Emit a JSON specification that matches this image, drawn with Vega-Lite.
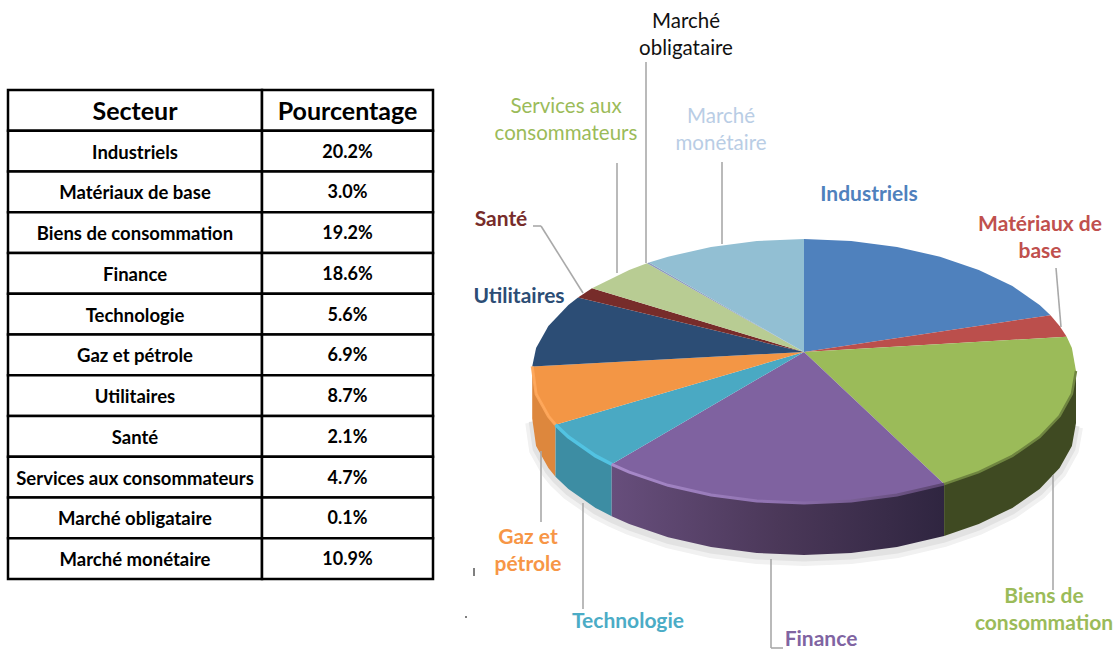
{
"$schema":"https://vega.github.io/schema/vega-lite/v6.json",
"padding":{"left":6,"top":0,"right":0,"bottom":0},
"spacing":0,
"bounds":"flush",
"config":{"view":{"stroke":null},"font":"Lato"},
"background":"white",
"datasets":{
"table":[
{"secteur":"Secteur","pourcentage":"Pourcentage","kind":"header"},
{"secteur":"Industriels","pourcentage":"20.2%","kind":"row"},
{"secteur":"Matériaux de base","pourcentage":"3.0%","kind":"row"},
{"secteur":"Biens de consommation","pourcentage":"19.2%","kind":"row"},
{"secteur":"Finance","pourcentage":"18.6%","kind":"row"},
{"secteur":"Technologie","pourcentage":"5.6%","kind":"row"},
{"secteur":"Gaz et pétrole","pourcentage":"6.9%","kind":"row"},
{"secteur":"Utilitaires","pourcentage":"8.7%","kind":"row"},
{"secteur":"Santé","pourcentage":"2.1%","kind":"row"},
{"secteur":"Services aux consommateurs","pourcentage":"4.7%","kind":"row"},
{"secteur":"Marché obligataire","pourcentage":"0.1%","kind":"row"},
{"secteur":"Marché monétaire","pourcentage":"10.9%","kind":"row"}
],
"faces":[
{"slice":"Industriels","i":0,"x":804,"y":352},{"slice":"Industriels","i":1,"x":804,"y":239},{"slice":"Industriels","i":2,"x":851.2,"y":241},{"slice":"Industriels","i":3,"x":897,"y":247},{"slice":"Industriels","i":4,"x":940,"y":256.7},{"slice":"Industriels","i":5,"x":978.8,"y":269.9},{"slice":"Industriels","i":6,"x":1012.4,"y":286.1},{"slice":"Industriels","i":7,"x":1039.6,"y":305},{"slice":"Industriels","i":8,"x":1050.5,"y":315.2},
{"slice":"Matériaux de base","i":0,"x":804,"y":352},{"slice":"Matériaux de base","i":1,"x":1050.5,"y":315.2},{"slice":"Matériaux de base","i":2,"x":1059.6,"y":325.9},{"slice":"Matériaux de base","i":3,"x":1066.7,"y":336.8},
{"slice":"Biens de consommation","i":0,"x":804,"y":352},{"slice":"Biens de consommation","i":1,"x":1066.7,"y":336.8},{"slice":"Biens de consommation","i":2,"x":1071.9,"y":348.1},{"slice":"Biens de consommation","i":3,"x":1076,"y":371},{"slice":"Biens de consommation","i":4,"x":1071.9,"y":393.9},{"slice":"Biens de consommation","i":5,"x":1059.6,"y":416.1},{"slice":"Biens de consommation","i":6,"x":1039.6,"y":437},{"slice":"Biens de consommation","i":7,"x":1012.4,"y":455.9},{"slice":"Biens de consommation","i":8,"x":978.8,"y":472.1},{"slice":"Biens de consommation","i":9,"x":944.1,"y":484.1},
{"slice":"Finance","i":0,"x":804,"y":352},{"slice":"Finance","i":1,"x":944.1,"y":484.1},{"slice":"Finance","i":2,"x":897,"y":495},{"slice":"Finance","i":3,"x":851.2,"y":501},{"slice":"Finance","i":4,"x":804,"y":503},{"slice":"Finance","i":5,"x":756.8,"y":501},{"slice":"Finance","i":6,"x":711,"y":495},{"slice":"Finance","i":7,"x":668,"y":485.3},{"slice":"Finance","i":8,"x":629.2,"y":472.1},{"slice":"Finance","i":9,"x":611.7,"y":464.3},
{"slice":"Technologie","i":0,"x":804,"y":352},{"slice":"Technologie","i":1,"x":611.7,"y":464.3},{"slice":"Technologie","i":2,"x":595.6,"y":455.9},{"slice":"Technologie","i":3,"x":568.4,"y":437},{"slice":"Technologie","i":4,"x":555.5,"y":424.7},
{"slice":"Gaz et pétrole","i":0,"x":804,"y":352},{"slice":"Gaz et pétrole","i":1,"x":555.5,"y":424.7},{"slice":"Gaz et pétrole","i":2,"x":548.4,"y":416.1},{"slice":"Gaz et pétrole","i":3,"x":536.1,"y":393.9},{"slice":"Gaz et pétrole","i":4,"x":532.2,"y":366.4},
{"slice":"Utilitaires","i":0,"x":804,"y":352},{"slice":"Utilitaires","i":1,"x":532.2,"y":366.4},{"slice":"Utilitaires","i":2,"x":536.1,"y":348.1},{"slice":"Utilitaires","i":3,"x":548.4,"y":325.9},{"slice":"Utilitaires","i":4,"x":568.4,"y":305},{"slice":"Utilitaires","i":5,"x":578,"y":297.6},
{"slice":"Santé","i":0,"x":804,"y":352},{"slice":"Santé","i":1,"x":578,"y":297.6},{"slice":"Santé","i":2,"x":592,"y":288.2},
{"slice":"Services aux consommateurs","i":0,"x":804,"y":352},{"slice":"Services aux consommateurs","i":1,"x":592,"y":288.2},{"slice":"Services aux consommateurs","i":2,"x":629.2,"y":269.9},{"slice":"Services aux consommateurs","i":3,"x":647,"y":263.2},
{"slice":"Marché obligataire","i":0,"x":804,"y":352},{"slice":"Marché obligataire","i":1,"x":647,"y":263.2},{"slice":"Marché obligataire","i":2,"x":649,"y":262.6},
{"slice":"Marché monétaire","i":0,"x":804,"y":352},{"slice":"Marché monétaire","i":1,"x":649,"y":262.6},{"slice":"Marché monétaire","i":2,"x":668,"y":256.7},{"slice":"Marché monétaire","i":3,"x":711,"y":247},{"slice":"Marché monétaire","i":4,"x":756.8,"y":241},{"slice":"Marché monétaire","i":5,"x":804,"y":239}
],
"walls":[
{"slice":"Gaz et pétrole","x":532.2,"top":366.4,"bottom":418.4},{"slice":"Gaz et pétrole","x":536.1,"top":393.9,"bottom":445.9},{"slice":"Gaz et pétrole","x":548.4,"top":416.1,"bottom":468.1},{"slice":"Gaz et pétrole","x":555.5,"top":424.7,"bottom":476.7},
{"slice":"Technologie","x":555.5,"top":424.7,"bottom":476.7},{"slice":"Technologie","x":568.4,"top":437,"bottom":489},{"slice":"Technologie","x":595.6,"top":455.9,"bottom":507.9},{"slice":"Technologie","x":611.7,"top":464.3,"bottom":516.3},
{"slice":"Finance","x":611.7,"top":464.3,"bottom":516.3},{"slice":"Finance","x":629.2,"top":472.1,"bottom":524.1},{"slice":"Finance","x":668,"top":485.3,"bottom":537.3},{"slice":"Finance","x":711,"top":495,"bottom":547},{"slice":"Finance","x":756.8,"top":501,"bottom":553},{"slice":"Finance","x":804,"top":503,"bottom":555},{"slice":"Finance","x":851.2,"top":501,"bottom":553},{"slice":"Finance","x":897,"top":495,"bottom":547},{"slice":"Finance","x":944.1,"top":484.1,"bottom":536.1},
{"slice":"Biens de consommation","x":944.1,"top":484.1,"bottom":536.1},{"slice":"Biens de consommation","x":978.8,"top":472.1,"bottom":524.1},{"slice":"Biens de consommation","x":1012.4,"top":455.9,"bottom":507.9},{"slice":"Biens de consommation","x":1039.6,"top":437,"bottom":489},{"slice":"Biens de consommation","x":1059.6,"top":416.1,"bottom":468.1},{"slice":"Biens de consommation","x":1071.9,"top":393.9,"bottom":445.9},{"slice":"Biens de consommation","x":1076,"top":371,"bottom":423}
],
"leaders":[
{"x":646,"y":62,"x2":646,"y2":263},
{"x":617,"y":163,"x2":617,"y2":273},
{"x":722,"y":162,"x2":722,"y2":244},
{"x":533,"y":226,"x2":541,"y2":226},
{"x":541,"y":226,"x2":583,"y2":293},
{"x":541,"y":451,"x2":541,"y2":522},
{"x":583,"y":503,"x2":583,"y2":609},
{"x":771,"y":559,"x2":771,"y2":648},
{"x":771,"y":648,"x2":783,"y2":648},
{"x":1053,"y":475,"x2":1053,"y2":590},
{"x":1056,"y":268,"x2":1061,"y2":327}
],
"specks":[
{"x":474,"y":568,"x2":474,"y2":576},
{"x":466,"y":616,"x2":466,"y2":618}
],
"labels":[
{"label":"Marché\nobligataire","weight":"normal","x":686,"y":22,"c":"Marché obligataire"},
{"label":"Services aux\nconsommateurs","weight":"normal","x":566,"y":107,"c":"Services aux consommateurs"},
{"label":"Marché\nmonétaire","weight":"normal","x":721,"y":117,"c":"Marché monétaire"},
{"label":"Industriels","weight":"bold","x":869,"y":195,"c":"Industriels"},
{"label":"Matériaux de\nbase","weight":"bold","x":1040,"y":225,"c":"Matériaux de base"},
{"label":"Santé","weight":"bold","x":501,"y":220,"c":"Santé"},
{"label":"Utilitaires","weight":"bold","x":519,"y":297,"c":"Utilitaires"},
{"label":"Gaz et\npétrole","weight":"bold","x":528,"y":538,"c":"Gaz et pétrole"},
{"label":"Technologie","weight":"bold","x":628,"y":622,"c":"Technologie"},
{"label":"Finance","weight":"bold","x":821,"y":640,"c":"Finance"},
{"label":"Biens de\nconsommation","weight":"bold","x":1044,"y":597,"c":"Biens de consommation"}
]
},
"hconcat":[
{"width":254,"height":650,"data":{"name":"table"},
 "layer":[
 {"mark":{"type":"rect","fill":"white","stroke":"black","strokeWidth":2.5},
  "encoding":{"y":{"field":"secteur","type":"nominal","sort":null,"axis":null,"scale":{"range":[90,579],"paddingInner":0,"paddingOuter":0}}}},
 {"mark":{"type":"text","fontWeight":"bold","font":"Lato","color":"black","dy":1.5},
  "encoding":{"y":{"field":"secteur","type":"nominal","sort":null,"axis":null},"text":{"field":"secteur"},
   "size":{"condition":{"test":"datum.kind==='header'","value":25},"value":18.5}}}
 ]},
{"width":171,"height":650,"data":{"name":"table"},
 "layer":[
 {"mark":{"type":"rect","fill":"white","stroke":"black","strokeWidth":2.5},
  "encoding":{"y":{"field":"secteur","type":"nominal","sort":null,"axis":null,"scale":{"range":[90,579],"paddingInner":0,"paddingOuter":0}}}},
 {"mark":{"type":"text","fontWeight":"bold","font":"Lato","color":"black","dy":1.5},
  "encoding":{"y":{"field":"secteur","type":"nominal","sort":null,"axis":null},"text":{"field":"pourcentage"},
   "size":{"condition":{"test":"datum.kind==='header'","value":25},"value":18}}}
 ]},
{"width":684,"height":650,
 "encoding":{
  "x":{"field":"x","type":"quantitative","axis":null,"scale":{"domain":[433,1117],"nice":false,"zero":false}},
  "y":{"field":"y","type":"quantitative","axis":null,"scale":{"domain":[650,0],"nice":false,"zero":false}}
 },
 "layer":[
 {"data":{"name":"walls"},"mark":{"type":"line","stroke":"#f1f1f1","strokeWidth":14,"yOffset":4},
  "encoding":{"y":{"field":"bottom","type":"quantitative"}}},
 {"data":{"name":"walls"},"mark":{"type":"line","stroke":"#e2e2e2","strokeWidth":7,"yOffset":3},
  "encoding":{"y":{"field":"bottom","type":"quantitative"}}},
 {"data":{"name":"walls"},"transform":[{"filter":"datum.slice==='Gaz et pétrole'"}],"mark":{"type":"area","color":"#dd873d"},
  "encoding":{"y":{"field":"top","type":"quantitative"},"y2":{"field":"bottom"}}},
 {"data":{"name":"walls"},"transform":[{"filter":"datum.slice==='Technologie'"}],"mark":{"type":"area","color":"#3d8da3"},
  "encoding":{"y":{"field":"top","type":"quantitative"},"y2":{"field":"bottom"}}},
 {"data":{"name":"walls"},"transform":[{"filter":"datum.slice==='Finance'"}],
  "mark":{"type":"area","color":{"gradient":"linear","x1":0,"x2":1,"y1":0,"y2":0,"stops":[{"offset":0,"color":"#674e7c"},{"offset":0.5,"color":"#4b3859"},{"offset":1,"color":"#2f2540"}]}},
  "encoding":{"y":{"field":"top","type":"quantitative"},"y2":{"field":"bottom"}}},
 {"data":{"name":"walls"},"transform":[{"filter":"datum.slice==='Biens de consommation'"}],"mark":{"type":"area","color":"#3f4a22"},
  "encoding":{"y":{"field":"top","type":"quantitative"},"y2":{"field":"bottom"}}},
 {"data":{"name":"faces"},"mark":{"type":"line","strokeWidth":0},
  "encoding":{"order":{"field":"i","type":"ordinal"},"detail":{"field":"slice"},
   "fill":{"field":"slice","type":"nominal","legend":null,"scale":{
    "domain":["Industriels","Matériaux de base","Biens de consommation","Finance","Technologie","Gaz et pétrole","Utilitaires","Santé","Services aux consommateurs","Marché obligataire","Marché monétaire"],
    "range":["#4f81bd","#bb4f4c","#9bbb59","#7f62a0","#4aa9c3","#f39645","#2c4d75","#772c2a","#b8cc93","#8d9bc0","#92bfd3"]}}}},
 {"data":{"name":"walls"},"transform":[{"filter":"datum.slice==='Gaz et pétrole'"}],"mark":{"type":"line","stroke":"#ffa95c","strokeWidth":3,"opacity":0.9},
  "encoding":{"y":{"field":"top","type":"quantitative"}}},
 {"data":{"name":"walls"},"transform":[{"filter":"datum.slice==='Technologie'"}],"mark":{"type":"line","stroke":"#52c3e2","strokeWidth":3.5},
  "encoding":{"y":{"field":"top","type":"quantitative"}}},
 {"data":{"name":"walls"},"transform":[{"filter":"datum.slice==='Finance'"}],
  "mark":{"type":"line","strokeWidth":3,"stroke":{"gradient":"linear","x1":0,"x2":1,"y1":0,"y2":0,"stops":[{"offset":0,"color":"#a98bcb"},{"offset":0.5,"color":"#8f72b0"},{"offset":1,"color":"#5d4672"}]}},
  "encoding":{"y":{"field":"top","type":"quantitative"}}},
 {"data":{"name":"walls"},"transform":[{"filter":"datum.slice==='Biens de consommation'"}],"mark":{"type":"line","stroke":"#6f8540","strokeWidth":2.5},
  "encoding":{"y":{"field":"top","type":"quantitative"}}},
 {"data":{"name":"leaders"},"mark":{"type":"rule","stroke":"#a9a9a9","strokeWidth":1.6},
  "encoding":{"x2":{"field":"x2"},"y2":{"field":"y2"}}},
 {"data":{"name":"specks"},"mark":{"type":"rule","stroke":"black","strokeWidth":1},
  "encoding":{"x2":{"field":"x2"},"y2":{"field":"y2"}}},
 {"data":{"name":"labels"},"transform":[{"filter":"datum.weight==='bold'"}],
  "mark":{"type":"text","font":"Lato","fontSize":21,"fontWeight":"bold","lineBreak":"\n","lineHeight":27},
  "encoding":{"text":{"field":"label"},
   "color":{"field":"c","type":"nominal","legend":null,"scale":{"domain":["Industriels","Matériaux de base","Biens de consommation","Finance","Technologie","Gaz et pétrole","Utilitaires","Santé","Services aux consommateurs","Marché obligataire","Marché monétaire"],
    "range":["#4f81bd","#c0504d","#9bbb59","#8064a2","#4bacc6","#f79646","#2c4d75","#772c2a","#9bbb59","#111111","#b9cde5"]}}}},
 {"data":{"name":"labels"},"transform":[{"filter":"datum.weight==='normal'"}],
  "mark":{"type":"text","font":"Lato","fontSize":20.5,"lineBreak":"\n","lineHeight":27},
  "encoding":{"text":{"field":"label"},
   "color":{"field":"c","type":"nominal","legend":null}}}
 ]}
]
}
